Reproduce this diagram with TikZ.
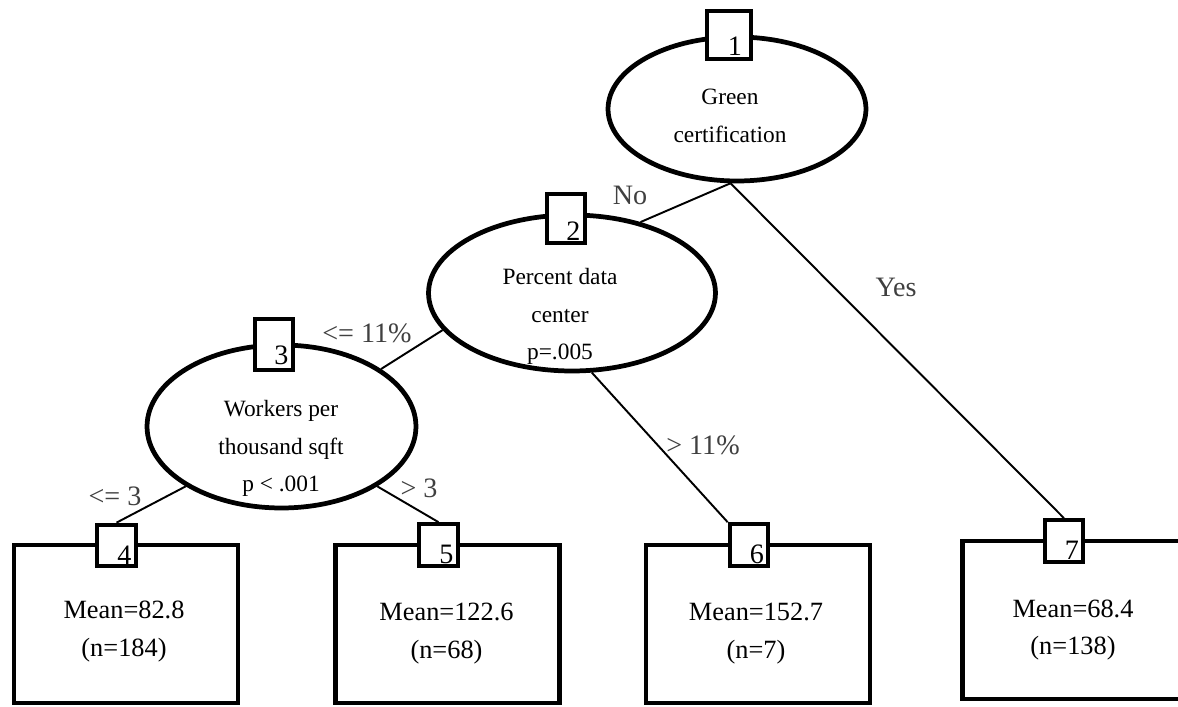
\documentclass[tikz,border=0pt]{standalone}
\usepackage{fontspec}
\setmainfont{Liberation Serif}
\usetikzlibrary{shapes.geometric}
\definecolor{labelgray}{RGB}{64,64,64}

\begin{document}
\begin{tikzpicture}[
    x=0.02cm, y=-0.02cm,
    split/.style={
        draw,
        ellipse,
        line width=2.7pt,
        inner sep=0pt
    },
    splittext/.style={
        align=center,
        font=\fontsize{13.3}{21.5}\selectfont
    },
    numbox/.style={
        draw,
        fill=white,
        line width=2.4pt,
        minimum width=0.77cm,
        minimum height=0.83cm,
        inner sep=0pt
    },
    numlab/.style={
        anchor=south east,
        inner xsep=3.5pt,
        inner ysep=2pt,
        font=\fontsize{16}{18}\selectfont
    },
    leaf/.style={
        draw,
        line width=2.7pt,
        minimum width=4.48cm,
        minimum height=3.16cm
    },
    leaftext/.style={
        align=center,
        font=\fontsize{15}{21.5}\selectfont
    },
    branch/.style={line width=1.1pt},
    cond/.style={
        text=labelgray,
        inner sep=0pt,
        font=\fontsize{16}{19}\selectfont
    }
]
\useasboundingbox (0,0) rectangle (1178,707);

% inner splits
\node[split, minimum width=5.16cm, minimum height=2.88cm] (n1) at (737,109) {};
\node[split, minimum width=5.74cm, minimum height=3.12cm] (n2) at (572,293) {};
\node[split, minimum width=5.38cm, minimum height=3.26cm] (n3) at (281.5,426.5) {};
\node[splittext] (t1) at (730,116) {Green\\certification};
\node[splittext] (t2) at (560,316.5) {Percent data\\center\\p=.005};
\node[splittext] (t3) at (281,448.5) {Workers per\\thousand sqft\\p < .001};

% terminal nodes
\node[leaf] (l4) at (126,624) {};
\node[leaf] (l5) at (447.5,624) {};
\node[leaf] (l6) at (758,624) {};
\node[leaf] (l7) at (1074.5,620) {};
\node[leaftext] (t4) at (124,631.5) {Mean=82.8\\(n=184)};
\node[leaftext] (t5) at (446.5,633.5) {Mean=122.6\\(n=68)};
\node[leaftext] (t6) at (756,633.5) {Mean=152.7\\(n=7)};
\node[leaftext] (t7) at (1073,630) {Mean=68.4\\(n=138)};

% node numbers
\node[numbox, minimum width=0.87cm, minimum height=0.95cm, label={[numlab, inner xsep=6pt, inner ysep=3pt]south east:1}] (b1) at (729,35) {};
\node[numbox, minimum width=0.75cm, minimum height=0.97cm, label={[numlab]south east:2}] (b2) at (566,218.5) {};
\node[numbox, minimum width=0.75cm, minimum height=1.01cm, label={[numlab, inner ysep=4pt]south east:3}] (b3) at (274,344.5) {};
\node[numbox, label={[numlab]south east:4}] (b4) at (116.5,545.5) {};
\node[numbox, label={[numlab]south east:5}] (b5) at (438.5,545) {};
\node[numbox, label={[numlab]south east:6}] (b6) at (749,545) {};
\node[numbox, label={[numlab]south east:7}] (b7) at (1064,541) {};

% branches
\draw[branch] (n1.265) -- (n2.46);
\draw[branch] (n1.265) -- (b7.north);
\draw[branch] (n2.196) -- (n3.30);
\draw[branch] (n2.284) -- (b6.north west);
\draw[branch] (n3.212) -- (b4.north);
\draw[branch] (n3.328) -- (b5.north);

\node[cond] (c12) at (630,195) {No};
\node[cond] (c17) at (896,287) {Yes};
\node[cond] (c23) at (367,333) {<= 11\%};
\node[cond] (c26) at (703,445) {> 11\%};
\node[cond] (c34) at (115,496) {<= 3};
\node[cond] (c35) at (419,488) {> 3};
\end{tikzpicture}
\end{document}
